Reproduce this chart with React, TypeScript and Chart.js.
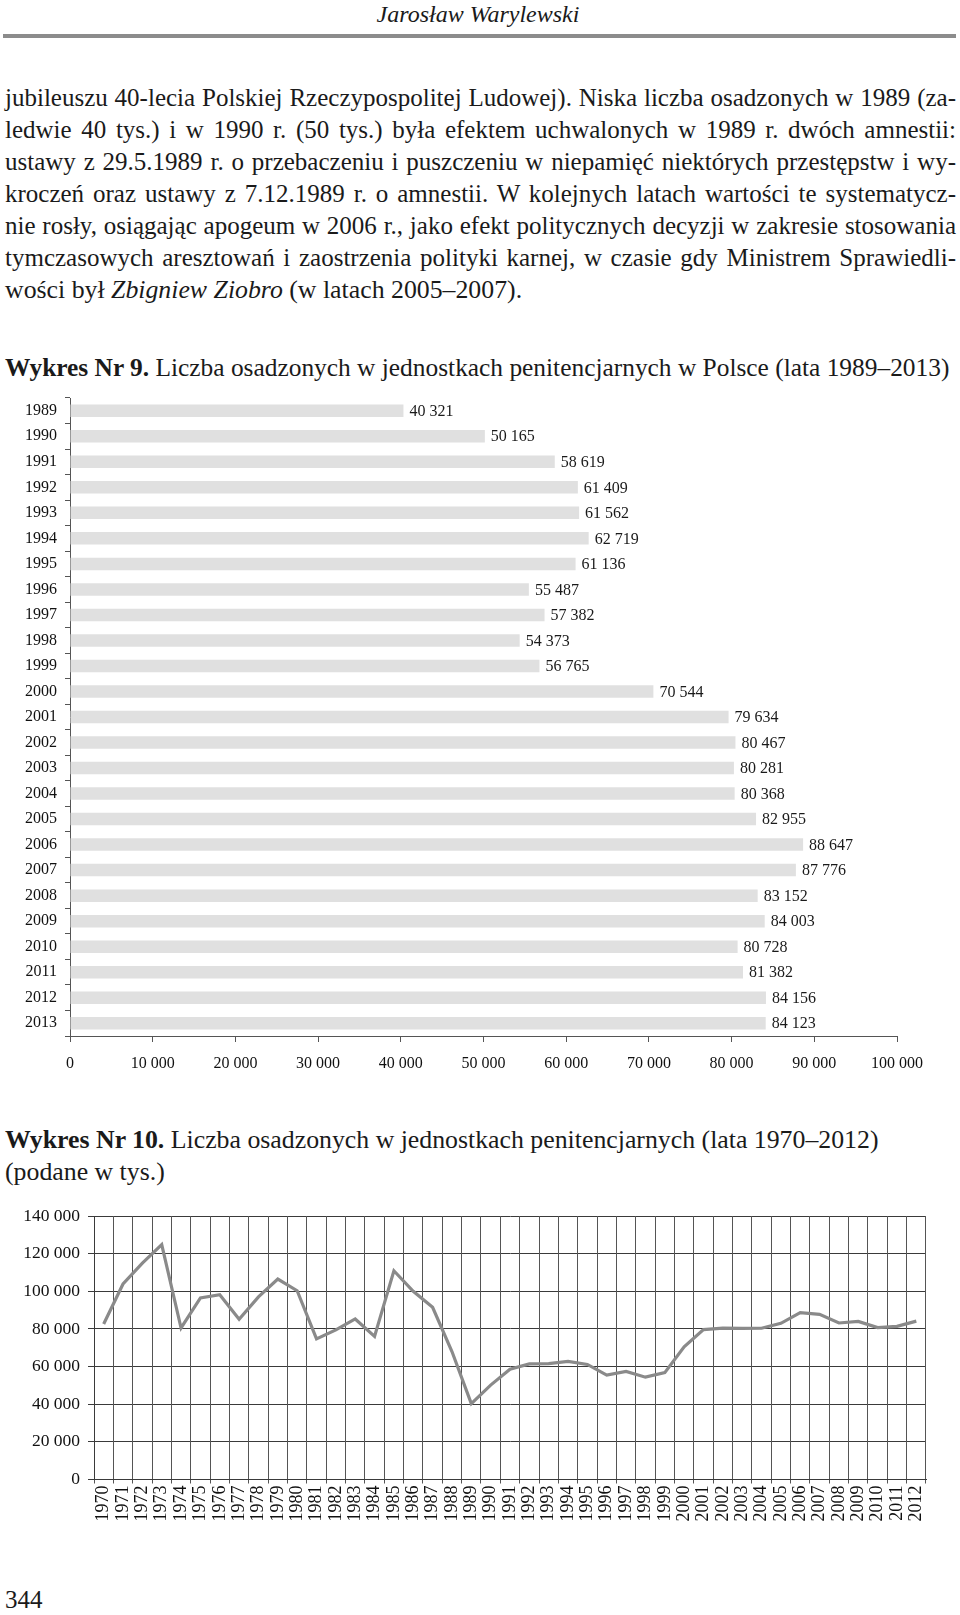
import React, { useEffect, useRef } from "react";
import { Chart, registerables } from "chart.js";

Chart.register(...registerables);

const barYears = ["1989","1990","1991","1992","1993","1994","1995","1996","1997","1998","1999","2000","2001","2002","2003","2004","2005","2006","2007","2008","2009","2010","2011","2012","2013"];
const barValues = [40321,50165,58619,61409,61562,62719,61136,55487,57382,54373,56765,70544,79634,80467,80281,80368,82955,88647,87776,83152,84003,80728,81382,84156,84123];

const lineYears = ["1970","1971","1972","1973","1974","1975","1976","1977","1978","1979","1980","1981","1982","1983","1984","1985","1986","1987","1988","1989","1990","1991","1992","1993","1994","1995","1996","1997","1998","1999","2000","2001","2002","2003","2004","2005","2006","2007","2008","2009","2010","2011","2012"];
const lineValues = [82600,103900,115000,124800,80500,96500,98200,85100,97000,106500,100300,74700,79500,85300,76000,110900,100000,91500,68000,40321,50165,58619,61409,61562,62719,61136,55487,57382,54373,56765,70544,79634,80467,80281,80368,82955,88647,87776,83152,84003,80728,81382,84156];

const paragraphLines = [
  "jubileuszu 40-lecia Polskiej Rzeczypospolitej Ludowej). Niska liczba osadzonych w 1989 (za-",
  "ledwie 40 tys.) i w 1990 r. (50 tys.) była efektem uchwalonych w 1989 r. dwóch amnestii:",
  "ustawy z 29.5.1989 r. o przebaczeniu i puszczeniu w niepamięć niektórych przestępstw i wy-",
  "kroczeń oraz ustawy z 7.12.1989 r. o amnestii. W kolejnych latach wartości te systematycz-",
  "nie rosły, osiągając apogeum w 2006 r., jako efekt politycznych decyzji w zakresie stosowania",
  "tymczasowych aresztowań i zaostrzenia polityki karnej, w czasie gdy Ministrem Sprawiedli-",
];

const FONT = "'Liberation Serif', 'Times New Roman', serif";

function fmt(v: number): string {
  return String(v).replace(/\B(?=(\d{3})+(?!\d))/g, " ");
}

const barLabelPlugin = {
  id: "barLabels",
  afterDatasetsDraw(chart: any) {
    const ctx = chart.ctx;
    const meta = chart.getDatasetMeta(0);
    const data = chart.data.datasets[0].data;
    ctx.save();
    ctx.font = "16px 'Liberation Serif'";
    ctx.fillStyle = "#1a1a1a";
    ctx.textBaseline = "middle";
    ctx.textAlign = "left";
    meta.data.forEach((bar: any, i: number) => {
      ctx.fillText(fmt(data[i] as number), bar.x + 6, bar.y + 1);
    });
    ctx.restore();
  },
};

export default function App() {
  const barRef = useRef<HTMLCanvasElement | null>(null);
  const lineRef = useRef<HTMLCanvasElement | null>(null);

  useEffect(() => {
    Chart.defaults.font.family = "'Liberation Serif'";
    const bar = new Chart(barRef.current as HTMLCanvasElement, {
      type: "bar",
      data: {
        labels: barYears,
        datasets: [
          {
            data: barValues,
            backgroundColor: "#e0e0e0",
            borderWidth: 0,
            barPercentage: 0.49,
            categoryPercentage: 1,
          },
        ],
      },
      options: {
        indexAxis: "y",
        animation: false,
        responsive: false,
        maintainAspectRatio: false,
        layout: { padding: { top: 18, right: 63, left: 0, bottom: 0 } },
        plugins: { legend: { display: false }, tooltip: { enabled: false } },
        scales: {
          y: {
            type: "category",
            offset: true,
            grid: { display: true, drawOnChartArea: false, tickLength: 5, color: "#555", offset: true },
            border: { display: true, color: "#555" },
            ticks: { font: { size: 16, family: "'Liberation Serif'" }, color: "#111", padding: 8, autoSkip: false },
            afterFit: (s: any) => { s.width = 70; },
          },
          x: {
            min: 0,
            max: 100000,
            grid: { display: true, drawOnChartArea: false, tickLength: 6, color: "#555" },
            border: { display: true, color: "#555" },
            ticks: {
              stepSize: 10000,
              font: { size: 16, family: "'Liberation Serif'" },
              color: "#111",
              padding: 12,
              maxRotation: 0,
              callback: (v: any) => fmt(Number(v)),
            },
            afterFit: (s: any) => { s.height = 64; },
          },
        },
      },
      plugins: [barLabelPlugin],
    } as any);

    const line = new Chart(lineRef.current as HTMLCanvasElement, {
      type: "line",
      data: {
        labels: lineYears,
        datasets: [
          {
            data: lineValues,
            borderColor: "#8a8a8a",
            borderWidth: 3.2,
            pointRadius: 0,
            tension: 0,
            fill: false,
          },
        ],
      },
      options: {
        animation: false,
        responsive: false,
        maintainAspectRatio: false,
        layout: { padding: { top: 26, right: 34, left: 0, bottom: 0 } },
        plugins: { legend: { display: false }, tooltip: { enabled: false } },
        scales: {
          y: {
            min: 0,
            max: 140000,
            grid: { color: "#3a3a3a", tickLength: 6, lineWidth: 1 },
            border: { display: true, color: "#3a3a3a" },
            ticks: {
              stepSize: 20000,
              font: { size: 17.5, family: "'Liberation Serif'" },
              color: "#111",
              padding: 8,
              callback: (v: any) => fmt(Number(v)),
            },
            afterFit: (s: any) => { s.width = 94; },
          },
          x: {
            offset: true,
            grid: { offset: true, color: "#555", tickLength: 4, lineWidth: 1 },
            border: { display: true, color: "#3a3a3a" },
            ticks: {
              autoSkip: false,
              minRotation: 90,
              maxRotation: 90,
              font: { size: 18, family: "'Liberation Serif'" },
              color: "#111",
              padding: 2,
            },
            afterFit: (s: any) => { s.height = 60.5; },
          },
        },
      },
    } as any);

    return () => {
      bar.destroy();
      line.destroy();
    };
  }, []);

  const textStyle: React.CSSProperties = {
    position: "absolute",
    left: 5,
    width: 951,
    height: 32,
    lineHeight: "32px",
    fontSize: 25,
    color: "#1a1a1a",
    whiteSpace: "nowrap",
    textAlign: "justify",
    textAlignLast: "justify",
  };

  const plain: React.CSSProperties = { ...textStyle, textAlign: "left", textAlignLast: "left" };

  return (
    <div style={{ position: "absolute", left: 0, top: 0, width: 960, height: 1615, background: "#fff", fontFamily: FONT, overflow: "hidden" }}>
      <div style={{ position: "absolute", left: 0, top: 0, width: 960, textAlign: "center", fontStyle: "italic", fontSize: 24, lineHeight: "28px", color: "#1a1a1a" }}>
        <span style={{ position: "relative", left: -2 }}>Jarosław Warylewski</span>
      </div>
      <div style={{ position: "absolute", left: 3, top: 34, width: 953, height: 4, background: "#8c8c8c" }} />

      {paragraphLines.map((t, i) => (
        <div key={i} style={{ ...textStyle, top: 82 + i * 32 }}>{t}</div>
      ))}
      <div style={{ ...plain, top: 82 + 6 * 32, fontSize: 25.8 }}>
        wości był <i>Zbigniew Ziobro</i> (w latach 2005–2007).
      </div>

      <div style={{ ...plain, top: 351, fontSize: 25.4 }}>
        <b>Wykres Nr 9.</b> Liczba osadzonych w jednostkach penitencjarnych w Polsce (lata 1989–2013)
      </div>

      <canvas ref={barRef} width={960} height={720} style={{ position: "absolute", left: 0, top: 380, width: 960, height: 720 }} />

      <div style={{ ...plain, top: 1124, fontSize: 25.8 }}>
        <b>Wykres Nr 10.</b> Liczba osadzonych w jednostkach penitencjarnych (lata 1970–2012)
      </div>
      <div style={{ ...plain, top: 1156, fontSize: 25.8 }}>(podane w tys.)</div>

      <canvas ref={lineRef} width={960} height={350} style={{ position: "absolute", left: 0, top: 1190, width: 960, height: 350 }} />

      <div style={{ position: "absolute", left: 5, top: 1584, fontSize: 25, lineHeight: "32px", color: "#1a1a1a" }}>344</div>
    </div>
  );
}
